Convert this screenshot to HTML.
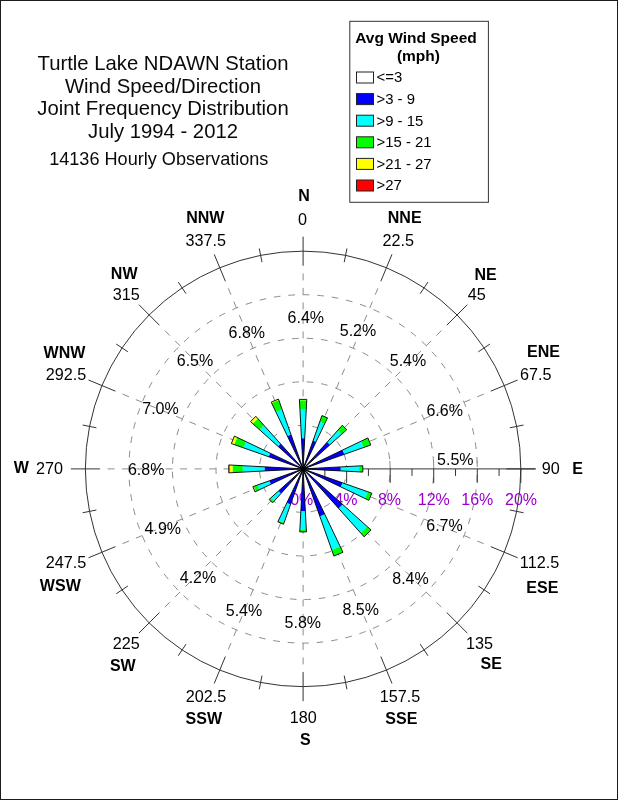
<!DOCTYPE html>
<html><head><meta charset="utf-8"><title>Wind Rose</title>
<style>
html,body{margin:0;padding:0;background:#fff;}
body{width:618px;height:800px;overflow:hidden;position:relative;}
svg{position:absolute;left:0;top:0;display:block;will-change:transform;}
text{font-family:"Liberation Sans",sans-serif;}
.t{font-size:20.3px;fill:#0a0a0a;text-anchor:middle;}
.o{font-size:18.1px;fill:#0a0a0a;text-anchor:middle;}
.p{font-size:16.0px;fill:#000;text-anchor:middle;}
.a{font-size:16.0px;fill:#9900cc;text-anchor:middle;}
.d{font-size:16.2px;fill:#000;text-anchor:middle;}
.b{font-size:16.0px;font-weight:bold;fill:#000;text-anchor:middle;}
.l{font-size:14.9px;fill:#000;}
.lh{font-size:15.5px;font-weight:bold;fill:#000;text-anchor:middle;}
</style></head><body>
<svg width="618" height="800" viewBox="0 0 618 800">
<rect x="0" y="0" width="618" height="800" fill="#fff"/>
<path d="M0.5 0V800M617.5 0V800M0 0.5H618M0 799.5H618" stroke="#1c1c1c" stroke-width="1" fill="none"/>

<text class="t" x="163.0" y="69.9">Turtle Lake NDAWN Station</text>
<text class="t" x="163.0" y="92.5">Wind Speed/Direction</text>
<text class="t" x="163.0" y="115.1">Joint Frequency Distribution</text>
<text class="t" x="163.0" y="137.7">July 1994 - 2012</text>
<text class="o" x="158.8" y="165.1">14136 Hourly Observations</text>
<rect x="349.8" y="21.3" width="138.6" height="181" fill="#fff" stroke="#333" stroke-width="1"/>
<text class="lh" x="416" y="43">Avg Wind Speed</text>
<text class="lh" x="418.4" y="61.3">(mph)</text>
<rect x="356.5" y="72.0" width="17" height="11" fill="#ffffff" stroke="#222" stroke-width="1"/>
<text class="l" x="376.5" y="82.4">&lt;=3</text>
<rect x="356.5" y="93.6" width="17" height="11" fill="#0000ff" stroke="#222" stroke-width="1"/>
<text class="l" x="376.5" y="104.0">&gt;3 - 9</text>
<rect x="356.5" y="115.2" width="17" height="11" fill="#00ffff" stroke="#222" stroke-width="1"/>
<text class="l" x="376.5" y="125.6">&gt;9 - 15</text>
<rect x="356.5" y="136.8" width="17" height="11" fill="#00ff00" stroke="#222" stroke-width="1"/>
<text class="l" x="376.5" y="147.2">&gt;15 - 21</text>
<rect x="356.5" y="158.4" width="17" height="11" fill="#ffff00" stroke="#222" stroke-width="1"/>
<text class="l" x="376.5" y="168.8">&gt;21 - 27</text>
<rect x="356.5" y="180.0" width="17" height="11" fill="#ff0000" stroke="#222" stroke-width="1"/>
<text class="l" x="376.5" y="190.4">&gt;27</text>
<g fill="none" stroke="#8c8c8c" stroke-width="1" stroke-dasharray="6.6 7.94">
<circle cx="303.1" cy="468.9" r="43.55" stroke-dashoffset="3.9"/>
<line x1="346.65" y1="468.90" x2="346.47" y2="465.01" stroke-dasharray="none"/>
<circle cx="303.1" cy="468.9" r="87.10" stroke-dashoffset="8.2"/>
<line x1="390.18" y1="467.30" x2="389.81" y2="460.71" stroke-dasharray="none"/>
<circle cx="303.1" cy="468.9" r="130.64" stroke-dashoffset="6.3"/>
<line x1="433.74" y1="468.90" x2="433.59" y2="462.60" stroke-dasharray="none"/>
<circle cx="303.1" cy="468.9" r="174.19" stroke-dashoffset="8.5"/>
<line x1="477.28" y1="467.00" x2="477.08" y2="460.40" stroke-dasharray="none"/>
<line x1="303.1" y1="468.9" x2="303.10" y2="265.66" stroke-dasharray="7 7.5"/>
<line x1="303.1" y1="468.9" x2="380.88" y2="281.13" stroke-dasharray="7 7.5"/>
<line x1="303.1" y1="468.9" x2="446.81" y2="325.19" stroke-dasharray="7 7.5"/>
<line x1="303.1" y1="468.9" x2="490.87" y2="391.12" stroke-dasharray="7 7.5"/>
<line x1="303.1" y1="468.9" x2="490.87" y2="546.68" stroke-dasharray="7 7.5"/>
<line x1="303.1" y1="468.9" x2="446.81" y2="612.61" stroke-dasharray="7 7.5"/>
<line x1="303.1" y1="468.9" x2="380.88" y2="656.67" stroke-dasharray="7 7.5"/>
<line x1="303.1" y1="468.9" x2="303.10" y2="672.14" stroke-dasharray="7 7.5"/>
<line x1="303.1" y1="468.9" x2="225.32" y2="656.67" stroke-dasharray="7 7.5"/>
<line x1="303.1" y1="468.9" x2="159.39" y2="612.61" stroke-dasharray="7 7.5"/>
<line x1="303.1" y1="468.9" x2="115.33" y2="546.68" stroke-dasharray="7 7.5"/>
<line x1="303.1" y1="468.9" x2="99.86" y2="468.90" stroke-dasharray="7 7.5"/>
<line x1="303.1" y1="468.9" x2="115.33" y2="391.12" stroke-dasharray="7 7.5"/>
<line x1="303.1" y1="468.9" x2="159.39" y2="325.19" stroke-dasharray="7 7.5"/>
<line x1="303.1" y1="468.9" x2="225.32" y2="281.13" stroke-dasharray="7 7.5"/>
</g>
<g fill="none" stroke="#333" stroke-width="1">
<circle cx="303.1" cy="468.9" r="217.74"/>
<line x1="303.10" y1="265.66" x2="303.10" y2="236.66"/>
<line x1="344.21" y1="262.21" x2="346.94" y2="248.48"/>
<line x1="380.88" y1="281.13" x2="391.97" y2="254.34"/>
<line x1="420.18" y1="293.68" x2="427.96" y2="282.04"/>
<line x1="446.81" y1="325.19" x2="467.32" y2="304.68"/>
<line x1="478.32" y1="351.82" x2="489.96" y2="344.04"/>
<line x1="490.87" y1="391.12" x2="517.66" y2="380.03"/>
<line x1="509.79" y1="427.79" x2="523.52" y2="425.06"/>
<line x1="506.34" y1="468.90" x2="535.34" y2="468.90"/>
<line x1="509.79" y1="510.01" x2="523.52" y2="512.74"/>
<line x1="490.87" y1="546.68" x2="517.66" y2="557.77"/>
<line x1="478.32" y1="585.98" x2="489.96" y2="593.76"/>
<line x1="446.81" y1="612.61" x2="467.32" y2="633.12"/>
<line x1="420.18" y1="644.12" x2="427.96" y2="655.76"/>
<line x1="380.88" y1="656.67" x2="391.97" y2="683.46"/>
<line x1="344.21" y1="675.59" x2="346.94" y2="689.32"/>
<line x1="303.10" y1="672.14" x2="303.10" y2="701.14"/>
<line x1="261.99" y1="675.59" x2="259.26" y2="689.32"/>
<line x1="225.32" y1="656.67" x2="214.23" y2="683.46"/>
<line x1="186.02" y1="644.12" x2="178.24" y2="655.76"/>
<line x1="159.39" y1="612.61" x2="138.88" y2="633.12"/>
<line x1="127.88" y1="585.98" x2="116.24" y2="593.76"/>
<line x1="115.33" y1="546.68" x2="88.54" y2="557.77"/>
<line x1="96.41" y1="510.01" x2="82.68" y2="512.74"/>
<line x1="99.86" y1="468.90" x2="70.86" y2="468.90"/>
<line x1="96.41" y1="427.79" x2="82.68" y2="425.06"/>
<line x1="115.33" y1="391.12" x2="88.54" y2="380.03"/>
<line x1="127.88" y1="351.82" x2="116.24" y2="344.04"/>
<line x1="159.39" y1="325.19" x2="138.88" y2="304.68"/>
<line x1="186.02" y1="293.68" x2="178.24" y2="282.04"/>
<line x1="225.32" y1="281.13" x2="214.23" y2="254.34"/>
<line x1="261.99" y1="262.21" x2="259.26" y2="248.48"/>
<line x1="303.1" y1="468.9" x2="535.84" y2="468.9"/>
<line x1="324.87" y1="468.9" x2="324.87" y2="475.9"/>
<line x1="346.65" y1="468.9" x2="346.65" y2="482.9"/>
<line x1="368.42" y1="468.9" x2="368.42" y2="475.9"/>
<line x1="390.20" y1="468.9" x2="390.20" y2="482.9"/>
<line x1="411.97" y1="468.9" x2="411.97" y2="475.9"/>
<line x1="433.74" y1="468.9" x2="433.74" y2="482.9"/>
<line x1="455.52" y1="468.9" x2="455.52" y2="475.9"/>
<line x1="477.29" y1="468.9" x2="477.29" y2="482.9"/>
<line x1="499.07" y1="468.9" x2="499.07" y2="475.9"/>
<line x1="520.84" y1="468.9" x2="520.84" y2="482.9"/>
</g>
<text class="a" x="301.7" y="505.2">0%</text>
<text class="a" x="345.8" y="505.2">4%</text>
<text class="a" x="389.5" y="505.2">8%</text>
<text class="a" x="433.8" y="505.2">12%</text>
<text class="a" x="477.3" y="505.2">16%</text>
<text class="a" x="521.0" y="505.2">20%</text>
<text class="p" x="305.8" y="322.7">6.4%</text>
<text class="p" x="358.0" y="336.0">5.2%</text>
<text class="p" x="408.0" y="366.2">5.4%</text>
<text class="p" x="444.7" y="416.2">6.6%</text>
<text class="p" x="455.3" y="465.1">5.5%</text>
<text class="p" x="444.5" y="531.1">6.7%</text>
<text class="p" x="410.5" y="584.0">8.4%</text>
<text class="p" x="360.7" y="615.0">8.5%</text>
<text class="p" x="302.8" y="627.7">5.8%</text>
<text class="p" x="244.0" y="616.1">5.4%</text>
<text class="p" x="198.0" y="583.4">4.2%</text>
<text class="p" x="162.8" y="533.7">4.9%</text>
<text class="p" x="146.2" y="475.4">6.8%</text>
<text class="p" x="160.5" y="413.7">7.0%</text>
<text class="p" x="195.0" y="366.2">6.5%</text>
<text class="p" x="246.8" y="338.2">6.8%</text>
<text class="d" x="302.5" y="225.2">0</text>
<text class="b" x="304.0" y="201.1">N</text>
<text class="d" x="398.2" y="245.5">22.5</text>
<text class="b" x="404.7" y="222.7">NNE</text>
<text class="d" x="476.7" y="300.2">45</text>
<text class="b" x="485.5" y="279.7">NE</text>
<text class="d" x="535.8" y="380.2">67.5</text>
<text class="b" x="543.5" y="357.1">ENE</text>
<text class="d" x="550.8" y="474.2">90</text>
<text class="b" x="577.7" y="474.4">E</text>
<text class="d" x="539.5" y="567.9">112.5</text>
<text class="b" x="542.3" y="592.7">ESE</text>
<text class="d" x="479.5" y="648.5">135</text>
<text class="b" x="491.2" y="668.7">SE</text>
<text class="d" x="400.0" y="701.9">157.5</text>
<text class="b" x="401.3" y="724.4">SSE</text>
<text class="d" x="303.2" y="722.7">180</text>
<text class="b" x="305.3" y="744.7">S</text>
<text class="d" x="206.0" y="702.2">202.5</text>
<text class="b" x="203.8" y="724.4">SSW</text>
<text class="d" x="126.3" y="648.5">225</text>
<text class="b" x="122.8" y="671.4">SW</text>
<text class="d" x="66.0" y="567.9">247.5</text>
<text class="b" x="60.3" y="591.1">WSW</text>
<text class="d" x="49.6" y="473.9">270</text>
<text class="b" x="21.2" y="472.9">W</text>
<text class="d" x="66.0" y="380.2">292.5</text>
<text class="b" x="64.5" y="358.1">WNW</text>
<text class="d" x="126.3" y="300.2">315</text>
<text class="b" x="124.2" y="279.4">NW</text>
<text class="d" x="205.8" y="246.2">337.5</text>
<text class="b" x="205.3" y="222.7">NNW</text>
<g stroke="#000" stroke-width="0.9" stroke-linejoin="miter">
<polygon points="303.10,468.90 301.46,438.20 304.74,438.20 303.10,468.90" fill="#0000ff" stroke="none"/>
<polygon points="301.46,438.20 299.94,409.60 306.26,409.60 304.74,438.20" fill="#00ffff" stroke="none"/>
<polygon points="299.94,409.60 299.44,400.20 306.76,400.20 306.26,409.60" fill="#00ff00" stroke="none"/>
<polygon points="299.44,400.20 299.40,399.40 306.80,399.40 306.76,400.20" fill="#ffff00" stroke="none"/>
<polygon points="303.10,468.90 299.40,399.40 306.80,399.40 303.10,468.90" fill="none"/>
<polygon points="303.10,468.90 313.10,440.57 316.06,441.80 303.10,468.90" fill="#0000ff" stroke="none"/>
<polygon points="313.10,440.57 319.77,421.69 324.70,423.73 316.06,441.80" fill="#00ffff" stroke="none"/>
<polygon points="319.77,421.69 321.94,415.55 327.50,417.85 324.70,423.73" fill="#00ff00" stroke="none"/>
<polygon points="303.10,468.90 321.94,415.55 327.50,417.85 303.10,468.90" fill="none"/>
<polygon points="303.10,468.90 327.27,442.01 329.99,444.73 303.10,468.90" fill="#0000ff" stroke="none"/>
<polygon points="327.27,442.01 337.84,430.25 341.75,434.16 329.99,444.73" fill="#00ffff" stroke="none"/>
<polygon points="337.84,430.25 342.33,425.26 346.74,429.67 341.75,434.16" fill="#00ff00" stroke="none"/>
<polygon points="303.10,468.90 342.33,425.26 346.74,429.67 303.10,468.90" fill="none"/>
<polygon points="303.10,468.90 342.58,450.03 344.36,454.33 303.10,468.90" fill="#0000ff" stroke="none"/>
<polygon points="342.58,450.03 361.19,441.13 363.82,447.46 344.36,454.33" fill="#00ffff" stroke="none"/>
<polygon points="361.19,441.13 367.88,437.93 370.80,444.99 363.82,447.46" fill="#00ff00" stroke="none"/>
<polygon points="303.10,468.90 367.88,437.93 370.80,444.99 303.10,468.90" fill="none"/>
<polygon points="303.10,468.90 340.70,466.90 340.70,470.90 303.10,468.90" fill="#0000ff" stroke="none"/>
<polygon points="340.70,466.90 359.30,465.91 359.30,471.89 340.70,470.90" fill="#00ffff" stroke="none"/>
<polygon points="359.30,465.91 362.80,465.72 362.80,472.08 359.30,471.89" fill="#00ff00" stroke="none"/>
<polygon points="303.10,468.90 362.80,465.72 362.80,472.08 303.10,468.90" fill="none"/>
<polygon points="303.10,468.90 342.57,482.84 340.87,486.95 303.10,468.90" fill="#0000ff" stroke="none"/>
<polygon points="342.57,482.84 367.78,491.74 364.99,498.49 340.87,486.95" fill="#00ffff" stroke="none"/>
<polygon points="367.78,491.74 371.84,493.18 368.87,500.34 364.99,498.49" fill="#00ff00" stroke="none"/>
<polygon points="303.10,468.90 371.84,493.18 368.87,500.34 303.10,468.90" fill="none"/>
<polygon points="303.10,468.90 342.72,504.51 338.71,508.52 303.10,468.90" fill="#0000ff" stroke="none"/>
<polygon points="342.72,504.51 367.15,526.47 360.67,532.95 338.71,508.52" fill="#00ffff" stroke="none"/>
<polygon points="367.15,526.47 371.02,529.95 364.15,536.82 360.67,532.95" fill="#00ff00" stroke="none"/>
<polygon points="303.10,468.90 371.02,529.95 364.15,536.82 303.10,468.90" fill="none"/>
<polygon points="303.10,468.90 324.83,514.35 319.87,516.40 303.10,468.90" fill="#0000ff" stroke="none"/>
<polygon points="324.83,514.35 340.20,546.51 331.74,550.01 319.87,516.40" fill="#00ffff" stroke="none"/>
<polygon points="340.20,546.51 342.97,552.29 333.88,556.06 331.74,550.01" fill="#00ff00" stroke="none"/>
<polygon points="303.10,468.90 342.97,552.29 333.88,556.06 303.10,468.90" fill="none"/>
<polygon points="303.10,468.90 305.34,510.90 300.86,510.90 303.10,468.90" fill="#0000ff" stroke="none"/>
<polygon points="305.34,510.90 306.35,529.90 299.85,529.90 300.86,510.90" fill="#00ffff" stroke="none"/>
<polygon points="306.35,529.90 306.46,531.90 299.74,531.90 299.85,529.90" fill="#00ff00" stroke="none"/>
<polygon points="303.10,468.90 306.46,531.90 299.74,531.90 303.10,468.90" fill="none"/>
<polygon points="303.10,468.90 290.50,504.59 286.77,503.05 303.10,468.90" fill="#0000ff" stroke="none"/>
<polygon points="290.50,504.59 284.09,522.72 278.48,520.40 286.77,503.05" fill="#00ffff" stroke="none"/>
<polygon points="284.09,522.72 283.56,524.23 277.79,521.84 278.48,520.40" fill="#00ff00" stroke="none"/>
<polygon points="303.10,468.90 283.56,524.23 277.79,521.84 303.10,468.90" fill="none"/>
<polygon points="303.10,468.90 280.94,493.55 278.45,491.06 303.10,468.90" fill="#0000ff" stroke="none"/>
<polygon points="280.94,493.55 273.91,501.37 270.63,498.09 278.45,491.06" fill="#00ffff" stroke="none"/>
<polygon points="273.91,501.37 272.57,502.86 269.14,499.43 270.63,498.09" fill="#00ff00" stroke="none"/>
<polygon points="303.10,468.90 272.57,502.86 269.14,499.43 303.10,468.90" fill="none"/>
<polygon points="303.10,468.90 270.76,484.36 269.30,480.84 303.10,468.90" fill="#0000ff" stroke="none"/>
<polygon points="270.76,484.36 259.19,489.89 257.21,485.11 269.30,480.84" fill="#00ffff" stroke="none"/>
<polygon points="259.19,489.89 255.67,491.58 253.53,486.41 257.21,485.11" fill="#00ff00" stroke="none"/>
<polygon points="255.67,491.58 255.03,491.88 252.86,486.64 253.53,486.41" fill="#ffff00" stroke="none"/>
<polygon points="303.10,468.90 255.03,491.88 252.86,486.64 303.10,468.90" fill="none"/>
<polygon points="303.10,468.90 264.50,470.96 264.50,466.84 303.10,468.90" fill="#0000ff" stroke="none"/>
<polygon points="264.50,470.96 242.70,472.12 242.70,465.68 264.50,466.84" fill="#00ffff" stroke="none"/>
<polygon points="242.70,472.12 232.50,472.66 232.50,465.14 242.70,465.68" fill="#00ff00" stroke="none"/>
<polygon points="232.50,472.66 229.40,472.83 229.40,464.97 232.50,465.14" fill="#ffff00" stroke="none"/>
<polygon points="229.40,472.83 228.80,472.86 228.80,464.94 229.40,464.97" fill="#ff0000" stroke="none"/>
<polygon points="303.10,468.90 228.80,472.86 228.80,464.94 303.10,468.90" fill="none"/>
<polygon points="303.10,468.90 268.63,456.73 270.12,453.14 303.10,468.90" fill="#0000ff" stroke="none"/>
<polygon points="268.63,456.73 243.14,447.73 245.73,441.47 270.12,453.14" fill="#00ffff" stroke="none"/>
<polygon points="243.14,447.73 234.17,444.56 237.15,437.37 245.73,441.47" fill="#00ff00" stroke="none"/>
<polygon points="234.17,444.56 231.34,443.56 234.43,436.07 237.15,437.37" fill="#ffff00" stroke="none"/>
<polygon points="303.10,468.90 231.34,443.56 234.43,436.07 303.10,468.90" fill="none"/>
<polygon points="303.10,468.90 278.00,446.34 280.54,443.80 303.10,468.90" fill="#0000ff" stroke="none"/>
<polygon points="278.00,446.34 259.46,429.67 263.87,425.26 280.54,443.80" fill="#00ffff" stroke="none"/>
<polygon points="259.46,429.67 252.75,423.65 257.85,418.55 263.87,425.26" fill="#00ff00" stroke="none"/>
<polygon points="252.75,423.65 250.52,421.64 255.84,416.32 257.85,418.55" fill="#ffff00" stroke="none"/>
<polygon points="303.10,468.90 250.52,421.64 255.84,416.32 303.10,468.90" fill="none"/>
<polygon points="303.10,468.90 287.42,436.10 291.00,434.62 303.10,468.90" fill="#0000ff" stroke="none"/>
<polygon points="287.42,436.10 275.80,411.80 282.03,409.22 291.00,434.62" fill="#00ffff" stroke="none"/>
<polygon points="275.80,411.80 271.61,403.04 278.79,400.06 282.03,409.22" fill="#00ff00" stroke="none"/>
<polygon points="271.61,403.04 271.18,402.13 278.46,399.12 278.79,400.06" fill="#ffff00" stroke="none"/>
<polygon points="303.10,468.90 271.18,402.13 278.46,399.12 303.10,468.90" fill="none"/>
</g>
</svg></body></html>
